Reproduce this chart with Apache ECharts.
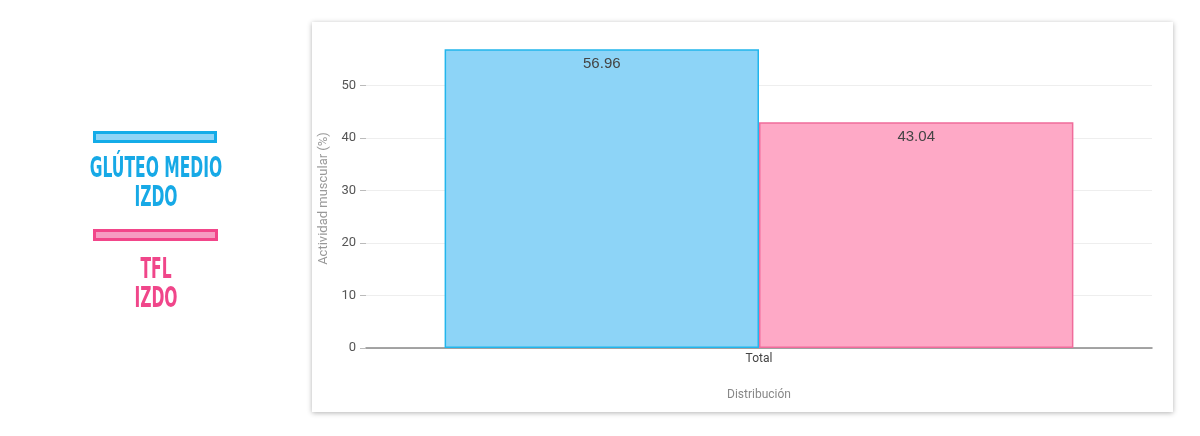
<!DOCTYPE html>
<html><head><meta charset="utf-8">
<script src="https://cdn.jsdelivr.net/npm/echarts@6/dist/echarts.min.js"></script>
<style>html,body{margin:0;padding:0;background:#fff}#c{width:1200px;height:436px}</style>
</head><body><div id="c"></div>
<script>
const categories = ['Total'];
const seriesNames = ['GLÚTEO MEDIO IZDO', 'TFL IZDO'];
const gluteoValues = [56.96];
const tflValues = [43.04];
const yTicks = [0, 10, 20, 30, 40, 50];

const chart = echarts.init(document.getElementById('c'));
chart.setOption({
  animation: false,
  graphic: [
    { type: 'rect', shape: { x: 312, y: 22, width: 861, height: 390 }, style: { fill: '#fff', shadowBlur: 5, shadowColor: 'rgba(0,0,0,0.3)', shadowOffsetX: 0, shadowOffsetY: 1 }, z: -10 },
    { type: 'rect', shape: { x: 94.5, y: 132.5, width: 121, height: 9 }, style: { fill: '#8fd4f6', stroke: '#14ace8', lineWidth: 3 } },
    { type: 'rect', shape: { x: 94.5, y: 230.5, width: 122, height: 9 }, style: { fill: '#f69cc2', stroke: '#f2468a', lineWidth: 3 } },
    { type: 'text', x: 156, y: 155, scaleX: 0.64, scaleY: 1.08, originX: 0, originY: 0, style: { text: 'GLÚTEO MEDIO\nIZDO', fill: '#17a9e6', font: 'bold 27px "DejaVu Sans Condensed", "DejaVu Sans"', align: 'center', lineHeight: 27 } },
    { type: 'text', x: 156, y: 256, scaleX: 0.64, scaleY: 1.08, originX: 0, originY: 0, style: { text: 'TFL\nIZDO', fill: '#f0468a', font: 'bold 27px "DejaVu Sans Condensed", "DejaVu Sans"', align: 'center', lineHeight: 27 } }
  ],
  grid: { left: 366, right: 48, top: 49, bottom: 88 },
  xAxis: {
    type: 'category', data: categories,
    name: 'Distribución', nameLocation: 'middle', nameGap: 41,
    nameTextStyle: { color: '#888', fontSize: 12, fontFamily: 'Roboto' },
    axisLine: { lineStyle: { color: '#888', width: 1.5 } },
    axisTick: { show: false },
    axisLabel: { color: '#444', fontSize: 12, fontFamily: 'Roboto', margin: 5 }
  },
  yAxis: {
    type: 'value', min: 0, max: 57, interval: 10,
    name: 'Actividad muscular (%)', nameLocation: 'middle', nameGap: 35,
    nameTextStyle: { color: '#999', fontSize: 13, fontFamily: 'Roboto' },
    axisLine: { show: false }, axisTick: { show: true, length: 6, lineStyle: { color: '#bbb' } },
    axisLabel: { color: '#555', fontSize: 13, fontFamily: 'Roboto', margin: 10, showMaxLabel: false,
      formatter: v => yTicks.includes(v) ? String(v) : '' },
    splitLine: { showMaxLine: false, lineStyle: { color: '#eee' } }
  },
  series: [
    { name: seriesNames[0], type: 'bar', data: gluteoValues, barGap: '0%', barCategoryGap: '20%',
      itemStyle: { color: '#8dd4f7', borderColor: '#22b5ec', borderWidth: 1.5 },
      label: { show: true, position: 'insideTop', distance: 7, color: '#444', fontSize: 15, fontFamily: 'Arial, "Liberation Sans"' } },
    { name: seriesNames[1], type: 'bar', data: tflValues,
      itemStyle: { color: '#fea9c6', borderColor: '#f06c9b', borderWidth: 1.5 },
      label: { show: true, position: 'insideTop', distance: 7, color: '#444', fontSize: 15, fontFamily: 'Arial, "Liberation Sans"' } }
  ]
});
</script></body></html>
